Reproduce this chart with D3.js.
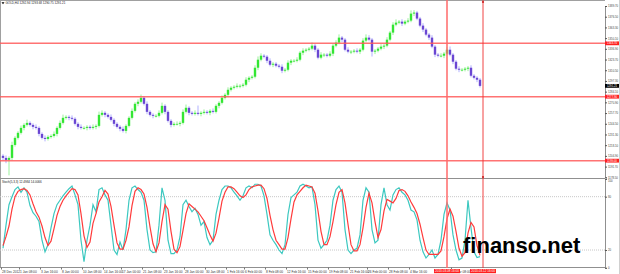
<!DOCTYPE html>
<html>
<head>
<meta charset="utf-8">
<script src="https://cdn.jsdelivr.net/npm/d3@7"></script>
<style>
  body { margin: 0; background: #fff; }
  svg { display: block; }
  text { font-family: "Liberation Sans", Arial, sans-serif; }
</style>
</head>
<body>
<svg id="chart" width="620" height="274"></svg>
<script>
// GOLD H4 closes, one per bar
const firstOpen = 1205.0;
const closes = [
  1202.4, 1199.9, 1202.4, 1218.4, 1227.1, 1233.3, 1239.4, 1243.1, 1245.6, 1243.1,
  1240.7, 1239.4, 1232.0, 1227.1, 1225.8, 1228.3, 1229.5, 1232.0, 1239.4, 1245.6,
  1251.8, 1253.0, 1251.8, 1250.6, 1244.4, 1240.7, 1239.4, 1239.4, 1240.7, 1239.4,
  1240.7, 1241.9, 1255.5, 1258.0, 1255.5, 1253.0, 1249.3, 1244.4, 1240.7, 1238.2,
  1235.7, 1241.9, 1251.8, 1260.4, 1269.1, 1271.6, 1276.5, 1269.1, 1259.2, 1255.5,
  1254.3, 1254.3, 1258.0, 1266.6, 1259.2, 1248.1, 1243.1, 1244.4, 1244.4, 1245.6,
  1259.2, 1264.2, 1258.0, 1256.7, 1258.0, 1256.7, 1258.0, 1259.2, 1258.0, 1260.4,
  1259.2, 1266.6, 1270.3, 1276.5, 1280.2, 1286.4, 1288.9, 1290.1, 1291.3, 1291.3,
  1292.6, 1298.8, 1301.2, 1302.5, 1313.6, 1323.5, 1328.4, 1327.2, 1322.2, 1317.3,
  1318.5, 1316.1, 1314.8, 1309.9, 1311.1, 1319.8, 1322.2, 1322.2, 1323.5, 1332.1,
  1334.6, 1335.8, 1337.1, 1340.8, 1335.8, 1326.0, 1329.7, 1329.7, 1328.4, 1330.9,
  1340.8, 1344.5, 1350.7, 1348.2, 1335.8, 1333.4, 1333.4, 1334.6, 1333.4, 1335.8,
  1347.0, 1350.7, 1348.2, 1333.4, 1334.6, 1337.1, 1339.6, 1340.8, 1348.2, 1356.9,
  1366.7, 1369.2, 1370.4, 1368.0, 1370.4, 1371.7, 1380.3, 1381.6, 1374.2, 1365.5,
  1360.6, 1354.4, 1350.7, 1339.6, 1329.7, 1328.4, 1328.4, 1330.9, 1335.8, 1329.7,
  1321.0, 1312.4, 1311.1, 1311.1, 1312.4, 1313.6, 1303.7, 1301.2, 1298.8, 1291.2
];
const wickUp = [
  2,3,2,4,2,2,3,2,4,2,2,3,2,2,3,2,2,3,2,3,
  4,2,2,3,2,2,3,2,2,2,3,2,4,3,2,2,3,2,2,2,
  3,2,2,3,2,3,4,2,3,2,2,2,3,4,2,2,2,2,3,2,
  3,4,2,2,3,9,2,3,2,2,3,2,2,3,2,3,2,2,3,2,
  2,3,2,2,3,4,3,2,2,3,2,2,2,3,2,3,2,2,3,2,
  3,2,2,4,2,2,3,2,2,3,2,3,4,2,2,3,2,2,3,2,
  3,4,3,2,2,2,3,2,3,2,3,4,2,3,2,3,4,3,2,2,
  3,2,2,3,2,2,3,2,3,4,2,2,3,2,2,2,3,2,2,2
];
const wickDn = [
  3,4,19,3,2,2,2,3,2,2,3,2,3,2,3,2,2,2,3,2,
  2,2,3,2,2,3,2,2,3,2,2,3,2,2,3,2,2,3,2,3,
  2,3,2,2,2,3,2,2,3,2,3,2,2,2,3,2,3,2,2,3,
  2,2,3,2,2,2,3,2,2,3,2,2,3,2,2,3,2,2,2,3,
  2,2,3,2,2,3,2,2,3,2,3,2,2,3,2,2,3,2,2,2,
  3,2,2,2,3,2,2,3,2,2,3,2,2,3,2,2,3,2,2,3,
  2,2,2,6,3,2,2,3,2,2,3,2,2,3,2,2,2,3,2,2,
  3,2,3,2,3,2,2,3,2,2,3,2,3,2,2,3,2,2,3,2
];

// Stochastic(5,3,3): main (%K) and signal (%D)
const stochMain = [
  22,48,71,80,88,91,85,90,85,70, 62,58,52,31,18,26,45,61,71,76,
  81,85,89,92,82,71,31,7,31,48, 71,63,88,90,82,76,48,20,15,29,
  20,43,76,90,92,88,85,76,43,20, 17,18,48,90,76,31,16,16,20,35,
  71,76,69,63,67,60,48,52,34,26, 31,60,76,88,92,92,90,85,81,76,
  81,90,92,90,94,94,92,81,60,37, 31,26,20,16,26,60,79,82,85,92,
  94,92,90,91,71,31,22,26,31,48, 76,88,92,85,43,20,16,20,22,37,
  76,90,85,43,28,31,71,90,71,65, 82,88,90,85,82,76,65,63,54,31,
  18,11,15,20,11,15,31,60,73,65, 37,20,9,11,31,76,45,18,11.5,12.4984
];
const stochSignal = [
  25,35,47,66,80,86,88,89,87,82, 72,63,57,47,34,25,30,44,59,69,
  76,81,85,89,88,82,61,36,23,29, 50,61,74,80,87,83,69,48,28,21,
  21,31,46,70,86,90,88,83,68,46, 27,18,28,52,71,66,41,21,17,24,
  42,61,72,69,66,63,58,53,45,37, 30,39,56,75,85,91,91,89,85,81,
  79,82,88,91,92,93,93,89,78,59, 43,31,26,21,21,34,55,74,82,86,
  90,93,92,91,84,64,41,26,26,35, 52,71,85,88,73,49,26,19,19,26,
  45,68,84,73,52,34,43,64,77,75, 73,78,87,88,86,81,74,68,61,49,
  34,20,15,15,15,15,19,35,55,66, 58,41,22,13,17,39,51,46,25,14.0066
];

const priceTicks = [1178.50, 1191.70, 1204.90, 1218.10, 1231.30, 1244.50, 1257.70, 1270.90,
  1284.10, 1297.30, 1310.50, 1323.70, 1336.90, 1350.10, 1363.30, 1376.50, 1389.70];
const levelLines = [1343.70, 1277.90, 1199.00];
const lastPrice = 1291.21;
const stochTicks = [0, 20, 80, 100];
const stochLevels = [80, 20];

// time labels (the ones hidden under the red time tags are left out)
const dateTickBars = [0, 6, 13, 20, 27, 34, 40, 47, 54, 61, 68, 75, 81, 88, 95, 102,
  109, 116, 122, 129, 136, 150];
const dateLabels = ["28 Dec 2012", "1 Jan 08:00", "3 Jan 16:00", "8 Jan 00:00", "10 Jan 08:00",
  "14 Jan 16:00", "17 Jan 00:00", "21 Jan 08:00", "23 Jan 16:00", "28 Jan 00:00", "30 Jan 08:00",
  "1 Feb 16:00", "6 Feb 00:00", "8 Feb 08:00", "12 Feb 16:00", "15 Feb 00:00", "19 Feb 08:00",
  "21 Feb 16:00", "26 Feb 00:00", "28 Feb 08:00", "4 Mar 16:00", "11 Mar 08:00"];
const vLineBars = [148, 160];
const vLineLabels = ["2013.03.08 16:00", "2013.03.12 16:00"];

const headerText = "GOLD,H4  1292.94 1293.68 1290.75 1291.21";

const svg = d3.select("#chart");
const W = 620, plotRight = 605;

const x = d3.scaleLinear().domain([0, closes.length - 1]).range([3, 480]);
const yP = d3.scaleLinear().domain([1178.5, 1389.7]).range([177.3, 6.0]);
const yS = d3.scaleLinear().domain([0, 100]).range([267.8, 178.9]);

const bars = closes.map((c, i) => {
  const o = i === 0 ? firstOpen : closes[i - 1];
  return {
    i: i, o: o, c: c,
    h: Math.max(o, c) + wickUp[i],
    l: Math.min(o, c) - wickDn[i],
    up: c >= o
  };
});

// frame lines
svg.append("line").attr("x1", 0).attr("x2", plotRight).attr("y1", 0.5).attr("y2", 0.5)
  .attr("stroke", "#a0a0a0");
svg.append("line").attr("x1", 0.5).attr("x2", 0.5).attr("y1", 0).attr("y2", 268)
  .attr("stroke", "#a0a0a0");
svg.append("line").attr("x1", 0).attr("x2", plotRight).attr("y1", 178.5).attr("y2", 178.5)
  .attr("stroke", "#909090").attr("stroke-width", 1.2);
svg.append("line").attr("x1", 0).attr("x2", plotRight).attr("y1", 267.5).attr("y2", 267.5)
  .attr("stroke", "#909090");
svg.append("line").attr("x1", W - 0.5).attr("x2", W - 0.5).attr("y1", 0).attr("y2", 274)
  .attr("stroke", "#d0d0d0");

// candles
const candles = svg.append("g").attr("class", "candles");
candles.selectAll("line.wick")
  .data(bars)
  .enter()
  .append("line")
  .attr("class", "wick")
  .attr("x1", (d) => x(d.i))
  .attr("x2", (d) => x(d.i))
  .attr("y1", (d) => yP(d.h))
  .attr("y2", (d) => yP(d.l))
  .attr("stroke", (d) => (d.up ? "#90ee90" : "#a8a8ff"))
  .attr("stroke-width", 0.9);
candles.selectAll("rect.body")
  .data(bars)
  .enter()
  .append("rect")
  .attr("class", "body")
  .attr("x", (d) => x(d.i) - 1.2)
  .attr("width", 2.4)
  .attr("y", (d) => yP(Math.max(d.o, d.c)))
  .attr("height", (d) => Math.max(0.8, Math.abs(yP(d.o) - yP(d.c))))
  .attr("fill", (d) => (d.up ? "#33e633" : "#6a46d2"));

// horizontal levels
svg.selectAll("line.level")
  .data(levelLines)
  .enter()
  .append("line")
  .attr("class", "level")
  .attr("x1", 0)
  .attr("x2", plotRight)
  .attr("y1", (d) => yP(d))
  .attr("y2", (d) => yP(d))
  .attr("stroke", "#ff5a5a")
  .attr("stroke-opacity", 0.85)
  .attr("stroke-width", 1.5);

// stochastic levels
svg.selectAll("line.slevel")
  .data(stochLevels)
  .enter()
  .append("line")
  .attr("x1", 0)
  .attr("x2", plotRight)
  .attr("y1", (d) => yS(d))
  .attr("y2", (d) => yS(d))
  .attr("stroke", "#c8c8c8")
  .attr("stroke-dasharray", "1,1");

// stochastic lines
const sLine = d3.line().x((d, i) => x(i)).y((d) => yS(d));
svg.append("path").datum(stochMain).attr("d", sLine)
  .attr("fill", "none").attr("stroke", "#3cc8c0").attr("stroke-width", 1.2);
svg.append("path").datum(stochSignal).attr("d", sLine)
  .attr("fill", "none").attr("stroke", "#ff3b3b").attr("stroke-width", 1.2);

// vertical lines
svg.selectAll("line.vline")
  .data(vLineBars)
  .enter()
  .append("line")
  .attr("x1", (d) => x(d))
  .attr("x2", (d) => x(d))
  .attr("y1", 0)
  .attr("y2", 268)
  .attr("stroke", (d, i) => (i === 0 ? "#ff6a6a" : "#ee3030"))
  .attr("stroke-width", (d, i) => (i === 0 ? 1.5 : 0.9));
svg.append("circle").attr("cx", x(vLineBars[1])).attr("cy", 2).attr("r", 1.1).attr("fill", "#cc2020");
svg.append("circle").attr("cx", x(vLineBars[1])).attr("cy", 177).attr("r", 1.1).attr("fill", "#cc2020");

// price axis
const pAxis = svg.append("g")
  .attr("transform", "translate(" + plotRight + ",0)")
  .call(d3.axisRight(yP).tickValues(priceTicks).tickSize(2).tickPadding(1)
    .tickFormat(d3.format(".2f")));
const sAxis = svg.append("g")
  .attr("transform", "translate(" + plotRight + ",0)")
  .call(d3.axisRight(yS).tickValues(stochTicks).tickSize(2).tickPadding(1));
[pAxis, sAxis].forEach((g) => {
  g.select(".domain").attr("stroke", "#909090");
  g.selectAll(".tick line").attr("stroke", "#555");
  g.selectAll(".tick text").attr("font-size", 2.8).attr("fill", "#444")
    .attr("font-family", "Liberation Sans, Arial, sans-serif");
});
sAxis.selectAll(".tick text").filter((d) => d === 100).attr("dy", "1.1em");

// price labels for level lines and last price
const tagData = levelLines.map((p) => ({ p: p, bg: "#ff2020" }))
  .concat([{ p: lastPrice, bg: "#000" }]);
const tags = svg.selectAll("g.tag").data(tagData).enter().append("g")
  .attr("transform", (d) => "translate(" + plotRight + "," + yP(d.p) + ")");
tags.append("rect").attr("x", 0).attr("y", -1.9).attr("width", 14).attr("height", 3.8)
  .attr("fill", (d) => d.bg);
tags.append("text").attr("x", 2).attr("y", 1).attr("font-size", 2.8).attr("fill", "#fff")
  .text((d) => d3.format(".2f")(d.p));

// date axis
const dAxis = svg.append("g")
  .attr("transform", "translate(0,267.5)")
  .call(d3.axisBottom(x).tickValues(dateTickBars).tickSize(2).tickPadding(1)
    .tickFormat((d, i) => dateLabels[i]));
dAxis.select(".domain").remove();
dAxis.selectAll(".tick line").attr("stroke", "#777").attr("transform", "translate(-2,0)");
dAxis.selectAll(".tick text").attr("font-size", 3.2).attr("fill", "#333")
  .attr("text-anchor", "start").attr("dx", -1.5)
  .attr("font-family", "Liberation Sans, Arial, sans-serif");

// red time tags for vertical lines
const vt = svg.selectAll("g.vtag").data(vLineBars).enter().append("g")
  .attr("transform", (d) => "translate(" + x(d) + ",269)");
vt.append("rect").attr("x", -13).attr("y", 0).attr("width", 26).attr("height", 4.2)
  .attr("fill", "#ff2020");
vt.append("text").attr("x", 0).attr("y", 3.2).attr("text-anchor", "middle")
  .attr("font-size", 3.1).attr("fill", "#fff").text((d, i) => vLineLabels[i]);

// headers
svg.append("path").attr("d", "M1.5,2.3 L4.5,2.3 L3,4.3 Z").attr("fill", "#000");
svg.append("text").attr("x", 5.5).attr("y", 4.4).attr("font-size", 3).attr("fill", "#222")
  .text(headerText);
svg.append("text").attr("x", 2).attr("y", 183.3).attr("font-size", 3).attr("fill", "#222")
  .text("Stoch(5,3,3) " + d3.format(".4f")(stochMain[stochMain.length - 1]) + " " +
    d3.format(".4f")(stochSignal[stochSignal.length - 1]));

// watermark
svg.append("text").attr("x", 463).attr("y", 253)
  .attr("font-family", "DejaVu Sans, Verdana, sans-serif")
  .attr("font-weight", "bold").attr("font-size", 22).attr("fill", "#000")
  .text("finanso.net");
</script>
</body>
</html>
